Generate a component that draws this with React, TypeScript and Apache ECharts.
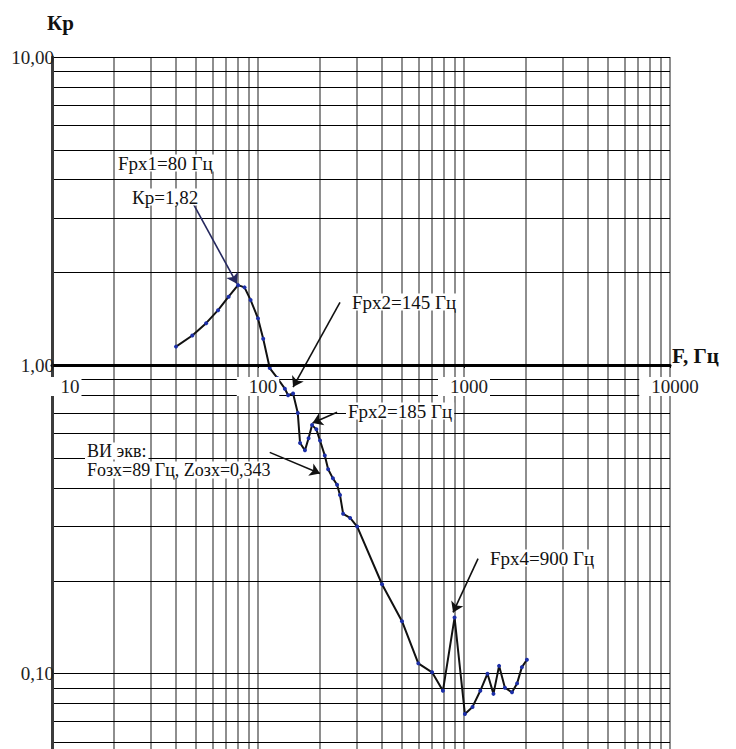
import React, { useEffect, useRef } from "react";
import * as echarts from "echarts";

// Measured curve: frequency F (Hz) and coefficient Kp
const freqHz = [40, 48, 56, 64, 72, 80, 86, 92, 100, 106, 114, 124, 135, 140, 148, 156, 160, 169, 176, 183, 192, 200, 211, 219, 231, 242, 250, 259, 280, 303, 400, 500, 600, 700, 790, 900, 1010, 1100, 1200, 1300, 1390, 1480, 1580, 1710, 1810, 1910, 2020];
const kpValues = [1.15, 1.25, 1.37, 1.51, 1.67, 1.82, 1.79, 1.63, 1.42, 1.22, 0.98, 0.91, 0.84, 0.8, 0.81, 0.7, 0.56, 0.53, 0.58, 0.64, 0.62, 0.57, 0.51, 0.46, 0.43, 0.41, 0.38, 0.33, 0.32, 0.3, 0.195, 0.148, 0.108, 0.101, 0.088, 0.152, 0.074, 0.078, 0.088, 0.1, 0.086, 0.106, 0.09, 0.087, 0.093, 0.105, 0.111];

// Axis ranges and grid values
const xMin = 10;
const xMax = 10000;
const yMin = 0.01;
const yMax = 10;
const xGridValues = [20, 30, 40, 50, 60, 70, 80, 90, 100, 200, 300, 400, 500, 600, 700, 800, 900, 1000, 2000, 3000, 4000, 5000, 6000, 7000, 8000, 9000, 10000];
const yGridValues = [0.02, 0.03, 0.04, 0.05, 0.06, 0.07, 0.08, 0.09, 0.1, 0.2, 0.3, 0.4, 0.5, 0.6, 0.7, 0.8, 0.9, 2, 3, 4, 5, 6, 7, 8, 9, 10];

// Annotation arrows: [tail F, tail Kp, head F, head Kp]
const arrowFrx1 = [48.3, 3.36, 79, 1.84];
const arrowFrx2a = [250, 1.6, 148, 0.85];
const arrowFrx2b = [242, 0.704, 184, 0.65];
const arrowEquiv = [114, 0.522, 200, 0.446];
const arrowFrx4 = [1170, 0.236, 885, 0.158];

const FONT = "Liberation Serif";

export default function App() {
  const ref = useRef<HTMLDivElement>(null);

  useEffect(() => {
    if (!ref.current) return;
    const chart = echarts.init(ref.current, undefined, { renderer: "svg" });

    const arrow = (a: number[], color: string) => [
      { coord: [a[0], a[1]], lineStyle: { color, width: 1.6, type: "solid" } },
      { coord: [a[2], a[3]] },
    ];

    const textEl = (x: number, y: number, text: string, opts: any = {}) => ({
      type: "text",
      x,
      y,
      z: 100,
      style: {
        text,
        fill: "#111",
        fontFamily: FONT,
        fontSize: opts.size || 19,
        fontWeight: opts.bold ? "bold" : "normal",
        lineHeight: 17,
        align: "left",
        verticalAlign: "middle",
        backgroundColor: opts.bg === false ? "transparent" : "#fff",
        padding: opts.bg === false ? 0 : [0, 2, 0, 2],
      },
    });

    const option: any = {
      animation: false,
      backgroundColor: "#fff",
      textStyle: { fontFamily: FONT },
      grid: { left: 52, top: 57, width: 618, height: 925, containLabel: false, outerBoundsMode: "none" },
      xAxis: {
        type: "log",
        logBase: 10,
        min: xMin,
        max: xMax,
        position: "bottom",
        offset: -617,
        z: 10,
        axisLine: { show: true, lineStyle: { color: "#000", width: 3 } },
        axisTick: { show: true, length: 3, lineStyle: { color: "#000", width: 1 } },
        splitLine: { show: false },
        axisLabel: {
          margin: 12,
          fontFamily: FONT,
          fontSize: 19,
          color: "#222",
          backgroundColor: "#fff",
          padding: [0, 2, 0, 12],
          formatter: (v: number) => {
            const r = Math.round(v);
            return r === 10 ? "{first|10}" : String(r);
          },
          rich: {
            first: { fontFamily: FONT, fontSize: 19, color: "#222", padding: [0, 0, 0, 26] },
          },
        },
      },
      yAxis: {
        type: "log",
        logBase: 10,
        min: yMin,
        max: yMax,
        z: 10,
        axisLine: { show: true, lineStyle: { color: "#3c3c3c", width: 3 } },
        axisTick: { show: false },
        splitLine: { show: false },
        axisLabel: {
          margin: -2,
          fontFamily: FONT,
          fontSize: 19,
          color: "#222",
          padding: [8, 0, 0, 0],
          formatter: (v: number) => (v >= 0.099 ? v.toFixed(2).replace(".", ",") : ""),
        },
      },
      series: [
        {
          type: "line",
          z: 1,
          silent: true,
          data: freqHz.map((f, i) => [f, kpValues[i]]),
          showSymbol: false,
          lineStyle: { opacity: 0 },
          markLine: {
            silent: true,
            symbol: ["none", "none"],
            label: { show: false },
            data: [
              ...xGridValues.map((v) => ({ xAxis: v, lineStyle: { color: "#8e8e8e", width: 2, type: "solid" } })),
              ...yGridValues.map((v) => ({ yAxis: v, lineStyle: { color: "#000", width: 1, type: "solid" } })),
            ],
          },
        },
        {
          type: "line",
          z: 5,
          data: freqHz.map((f, i) => [f, kpValues[i]]),
          symbol: "circle",
          symbolSize: 4,
          showSymbol: true,
          lineStyle: { color: "#111", width: 2 },
          itemStyle: { color: "#1c2fa8" },
          markLine: {
            silent: true,
            symbol: ["none", "arrow"],
            symbolSize: 10,
            label: { show: false },
            data: [
              arrow(arrowFrx1, "#25285e"),
              arrow(arrowFrx2a, "#111"),
              arrow(arrowFrx2b, "#111"),
              arrow(arrowEquiv, "#111"),
              arrow(arrowFrx4, "#111"),
            ],
          },
        },
      ],
      graphic: [
        textEl(47, 23, "Кр", { bold: true, size: 21, bg: false }),
        textEl(672, 356, "F, Гц", { bold: true, size: 21, bg: false }),
        textEl(116, 163, "Fрх1=80 Гц"),
        textEl(130, 197, "Кр=1,82"),
        textEl(350, 302, "Fрх2=145 Гц"),
        textEl(346, 411, "Fрх2=185 Гц"),
        textEl(85, 451, "ВИ экв:", { size: 18 }),
        textEl(85, 470, "Fозх=89 Гц, Zозх=0,343", { size: 18 }),
        textEl(488, 558, "Fрх4=900 Гц"),
      ],
    };

    chart.setOption(option);
    return () => chart.dispose();
  }, []);

  return <div ref={ref} style={{ width: 736, height: 749, position: "absolute", left: 0, top: 0 }} />;
}
